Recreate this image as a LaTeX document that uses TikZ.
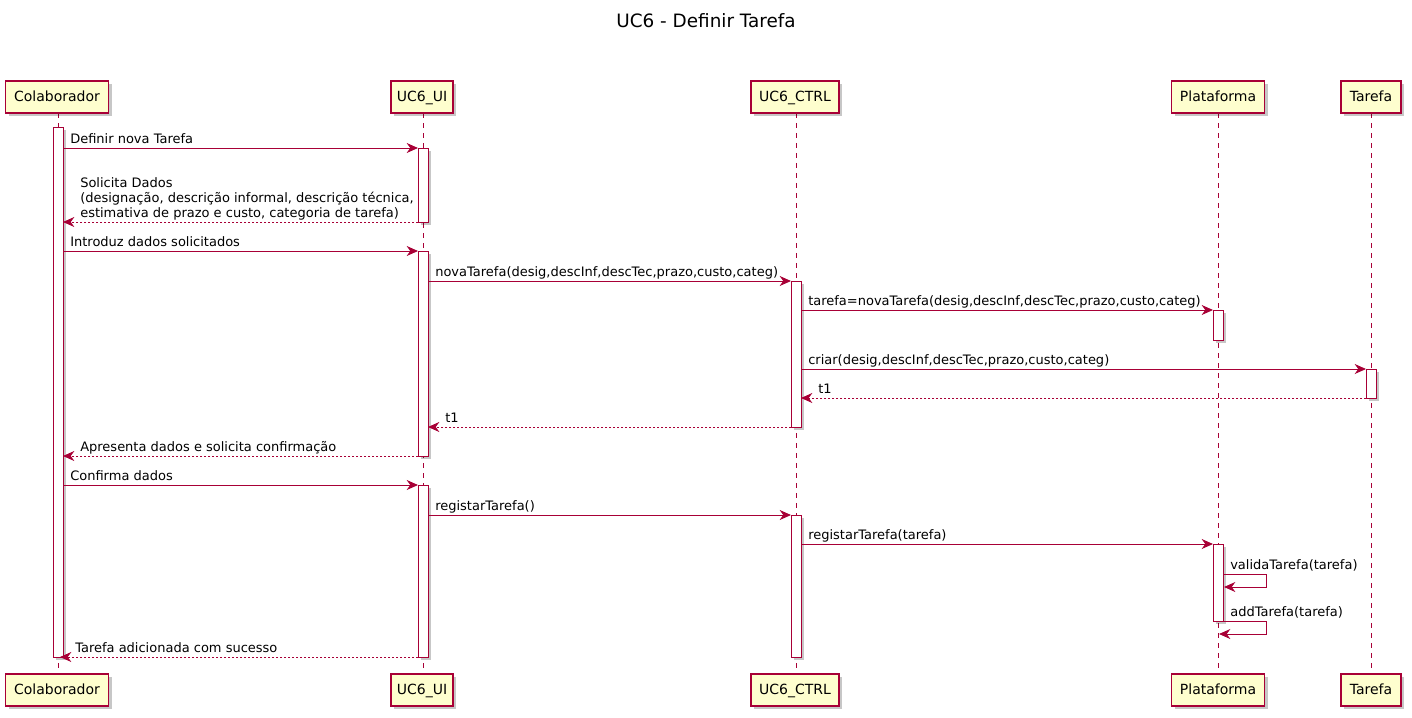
\documentclass[tikz,border=0pt]{standalone}
\usepackage{fontspec}
\setmainfont{DejaVu Sans}
\usetikzlibrary{arrows.meta,shadows}
\definecolor{umlred}{HTML}{A80036}
\definecolor{umlfill}{HTML}{FEFECE}
\newcommand{\msgfont}{\fontsize{9.75}{11.25}\selectfont}
\newcommand{\partfont}{\fontsize{10.5}{12}\selectfont}
\newcommand{\titlefont}{\fontsize{13.8}{16}\selectfont}
\begin{document}
\begin{tikzpicture}[x=0.75pt,y=-0.75pt,
  shad/.style={drop shadow={shadow xshift=2.5pt, shadow yshift=-2.5pt, fill=black, opacity=0.22}},
  part/.style={draw=umlred, fill=umlfill, line width=0.8pt, minimum height=24pt, inner sep=0pt,
    font=\partfont, text height=0.75em, text depth=0.15em, shad},
  life/.style={draw=umlred, line width=0.75pt, dash pattern=on 3.75pt off 3.75pt},
  actbar/.style={draw=umlred, fill=white, line width=0.75pt, shad},
  msg/.style={draw=umlred, line width=0.75pt, -{Stealth[length=8.5pt, width=7.5pt, inset=2.7pt]}},
  ret/.style={msg, dash pattern=on 1.5pt off 1.5pt},
  lbl/.style={font=\msgfont, inner sep=0pt, anchor=base west, text=black},
]
\useasboundingbox (0,0) rectangle (1412,717);
\fill[white] (0,0) rectangle (1412,717);

% title
\node[font=\titlefont, anchor=base] (title) at (706,28) {UC6 - Definir Tarefa};

% lifelines
\coordinate (colT) at (58,113);  \coordinate (colB) at (58,674);
\coordinate (uiT) at (423,113);  \coordinate (uiB) at (423,674);
\coordinate (ctT) at (796,113);  \coordinate (ctB) at (796,674);
\coordinate (plT) at (1218,113); \coordinate (plB) at (1218,674);
\coordinate (taT) at (1371,113); \coordinate (taB) at (1371,674);
\draw[life] (colT) -- (colB);
\draw[life] (uiT) -- (uiB);
\draw[life] (ctT) -- (ctB);
\draw[life] (plT) -- (plB);
\draw[life] (taT) -- (taB);

% participants
\node[part, minimum width=77pt] (colTop) at (57,97) {Colaborador};
\node[part, minimum width=46.5pt] (uiTop) at (422,97) {UC6\_UI};
\node[part, minimum width=66pt] (ctTop) at (795,97) {UC6\_CTRL};
\node[part, minimum width=70pt] (plTop) at (1218,97) {Plataforma};
\node[part, minimum width=45pt] (taTop) at (1371,97) {Tarefa};
\node[part, minimum width=77pt] (colBot) at (57,690) {Colaborador};
\node[part, minimum width=46.5pt] (uiBot) at (422,690) {UC6\_UI};
\node[part, minimum width=66pt] (ctBot) at (795,690) {UC6\_CTRL};
\node[part, minimum width=70pt] (plBot) at (1218,690) {Plataforma};
\node[part, minimum width=45pt] (taBot) at (1371,690) {Tarefa};

% activation bars
\draw[actbar] (53,127) rectangle (63,657);
\draw[actbar] (418,148) rectangle (428,222);
\draw[actbar] (418,251) rectangle (428,456);
\draw[actbar] (418,485) rectangle (428,657);
\draw[actbar] (791,281) rectangle (801,427);
\draw[actbar] (791,515) rectangle (801,657);
\draw[actbar] (1213,310) rectangle (1223,340);
\draw[actbar] (1213,544) rectangle (1223,621);
\draw[actbar] (1366,369) rectangle (1376,398);

% message endpoints
\coordinate (a1) at (63,148);   \coordinate (b1) at (418,148);
\coordinate (a2) at (418,222);  \coordinate (b2) at (63,222);
\coordinate (a3) at (63,251);   \coordinate (b3) at (418,251);
\coordinate (a4) at (428,281);  \coordinate (b4) at (791,281);
\coordinate (a5) at (801,310);  \coordinate (b5) at (1213,310);
\coordinate (a6) at (801,369);  \coordinate (b6) at (1366,369);
\coordinate (a7) at (1366,398); \coordinate (b7) at (801,398);
\coordinate (a8) at (791,427);  \coordinate (b8) at (428,427);
\coordinate (a9) at (418,456);  \coordinate (b9) at (63,456);
\coordinate (a10) at (63,485);  \coordinate (b10) at (418,485);
\coordinate (a11) at (428,515); \coordinate (b11) at (791,515);
\coordinate (a12) at (801,544); \coordinate (b12) at (1213,544);
\coordinate (a13) at (1223,574); \coordinate (m13a) at (1266,574); \coordinate (m13b) at (1266,587); \coordinate (b13) at (1224,587);
\coordinate (a14) at (1223,621); \coordinate (m14a) at (1266,621); \coordinate (m14b) at (1266,634); \coordinate (b14) at (1219,634);
\coordinate (a15) at (418,657); \coordinate (b15) at (60,657);

\draw[msg] (a1) -- (b1);
\draw[ret] (a2) -- (b2);
\draw[msg] (a3) -- (b3);
\draw[msg] (a4) -- (b4);
\draw[msg] (a5) -- (b5);
\draw[msg] (a6) -- (b6);
\draw[ret] (a7) -- (b7);
\draw[ret] (a8) -- (b8);
\draw[ret] (a9) -- (b9);
\draw[msg] (a10) -- (b10);
\draw[msg] (a11) -- (b11);
\draw[msg] (a12) -- (b12);
\draw[msg] (a13) -- (m13a) -- (m13b) -- (b13);
\draw[msg] (a14) -- (m14a) -- (m14b) -- (b14);
\draw[ret] (a15) -- (b15);

% labels
\node[lbl] (l1) at (70,143) {Definir nova Tarefa};
\node[lbl, align=left] (l2) at (80,217) {Solicita Dados\\(designação, descrição informal, descrição técnica,\\estimativa de prazo e custo, categoria de tarefa)};
\node[lbl] (l3) at (70,246) {Introduz dados solicitados};
\node[lbl] (l4) at (435,276) {novaTarefa(desig,descInf,descTec,prazo,custo,categ)};
\node[lbl] (l5) at (808,305) {tarefa=novaTarefa(desig,descInf,descTec,prazo,custo,categ)};
\node[lbl] (l6) at (808,364) {criar(desig,descInf,descTec,prazo,custo,categ)};
\node[lbl] (l7) at (818,393) {t1};
\node[lbl] (l8) at (445,422) {t1};
\node[lbl] (l9) at (80,451) {Apresenta dados e solicita confirmação};
\node[lbl] (l10) at (70,480) {Confirma dados};
\node[lbl] (l11) at (435,510) {registarTarefa()};
\node[lbl] (l12) at (808,539) {registarTarefa(tarefa)};
\node[lbl] (l13) at (1230,569) {validaTarefa(tarefa)};
\node[lbl] (l14) at (1230,616) {addTarefa(tarefa)};
\node[lbl] (l15) at (75,652) {Tarefa adicionada com sucesso};
\end{tikzpicture}
\end{document}
